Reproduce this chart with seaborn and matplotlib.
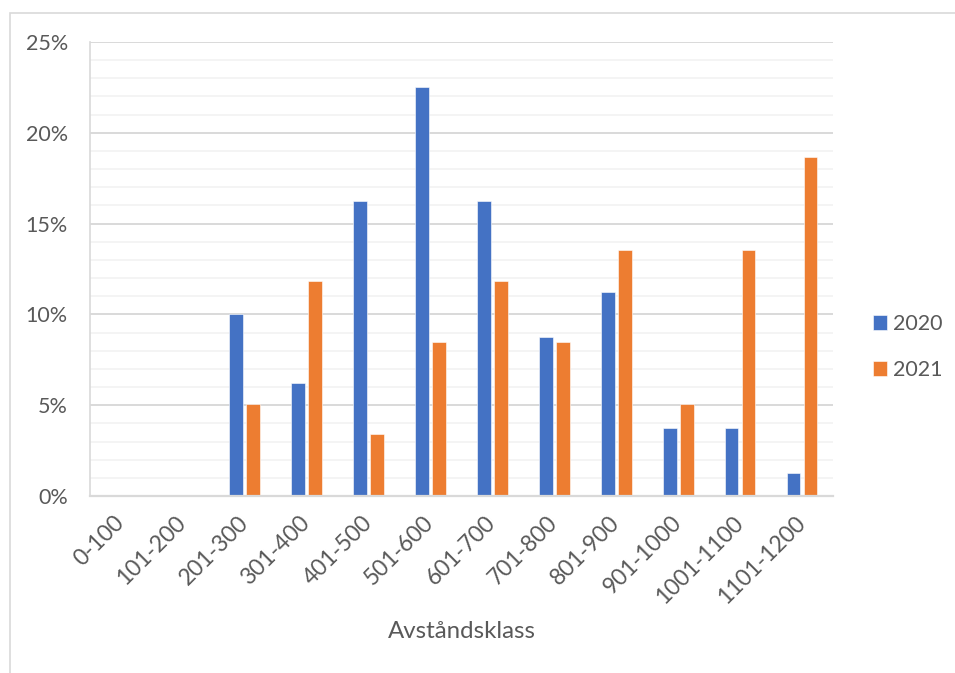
import matplotlib
matplotlib.use("Agg")
import matplotlib.pyplot as plt
from matplotlib.patches import Rectangle
from matplotlib.ticker import PercentFormatter, MultipleLocator
import pandas as pd
import seaborn as sns

# Share of trips per distance class (percent)
klasser = ["0-100", "101-200", "201-300", "301-400", "401-500", "501-600",
           "601-700", "701-800", "801-900", "901-1000", "1001-1100", "1101-1200"]
andel_2020 = [0, 0, 10.0, 6.25, 16.25, 22.5, 16.25, 8.75, 11.25, 3.75, 3.75, 1.25]
andel_2021 = [0, 0, 5.08, 11.86, 3.39, 8.47, 11.86, 8.47, 13.56, 5.08, 13.56, 18.64]
ar = ["2020", "2021"]
farger = ["#4472C4", "#ED7D31"]

df = pd.DataFrame({
    "Avståndsklass": klasser * 2,
    "Andel": andel_2020 + andel_2021,
    "År": [ar[0]] * len(klasser) + [ar[1]] * len(klasser),
})

sns.set_theme(style="white")
plt.rcParams["font.family"] = ["Lato", "DejaVu Sans"]

textfarg = "#595959"
fs = 15.5

fig = plt.figure(figsize=(9.55, 6.73), dpi=100)
ax = fig.add_axes([90 / 955, 1 - 496 / 673, (833 - 90) / 955, (496 - 42) / 673])

sns.barplot(data=df, x="Avståndsklass", y="Andel", hue="År",
            palette=farger, width=0.55, gap=0.2, ax=ax,
            edgecolor="white", linewidth=0.4, saturation=1, legend=True)

ax.set_ylim(0, 25)
ax.set_xlim(-0.5, len(klasser) - 0.5)
ax.yaxis.set_major_locator(MultipleLocator(5))
ax.yaxis.set_minor_locator(MultipleLocator(1))
ax.yaxis.set_major_formatter(PercentFormatter(decimals=0))
ax.grid(axis="y", which="major", color="#D9D9D9", linewidth=1.4)
ax.grid(axis="y", which="minor", color="#F2F2F2", linewidth=1.2)
ax.set_axisbelow(True)

for side in ["top", "right"]:
    ax.spines[side].set_visible(False)
ax.spines["left"].set_color("#D9D9D9")
ax.spines["left"].set_linewidth(1.2)
ax.spines["bottom"].set_color("#D9D9D9")
ax.spines["bottom"].set_linewidth(1.6)

ax.tick_params(axis="both", which="both", length=0, colors=textfarg)
ax.tick_params(axis="y", pad=16, labelsize=fs)
ax.tick_params(axis="x", pad=17, labelsize=16.5)
for lbl in ax.get_xticklabels():
    lbl.set_rotation(45)
    lbl.set_ha("right")
    lbl.set_va("center")
    lbl.set_rotation_mode("anchor")

ax.set_ylabel("")
ax.set_xlabel("Avståndsklass", color=textfarg, fontsize=17.3)
ax.xaxis.set_label_coords(0.5, -(632 - 496) / 454, transform=ax.transAxes)
ax.xaxis.label.set_va("center")

handles, labels = ax.get_legend_handles_labels()
ax.legend(handles, labels, loc="center left",
          bbox_to_anchor=(862 / 955, 1 - 347 / 673), bbox_transform=fig.transFigure,
          frameon=False, fontsize=fs, labelcolor=textfarg,
          handlelength=0.65, handleheight=0.65, handletextpad=0.3,
          labelspacing=1.2, borderpad=0)

# Outer chart border
fig.patches.append(Rectangle((10 / 955, -0.1), 1.0, (673 - 13) / 673 + 0.1,
                             transform=fig.transFigure, fill=False,
                             edgecolor="#D9D9D9", linewidth=1.2))

fig.savefig("out.png", dpi=100)
